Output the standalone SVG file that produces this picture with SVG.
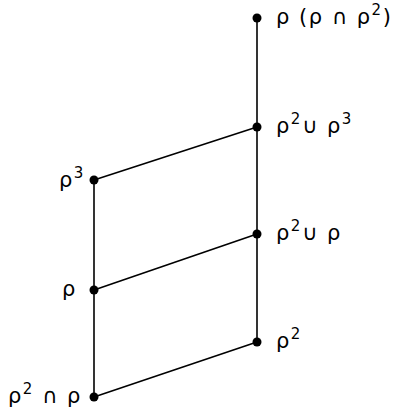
<svg xmlns="http://www.w3.org/2000/svg" width="404" height="413" viewBox="0 0 404 413">
<style>
.e{stroke:#000;stroke-width:1.6;fill:none}
.d{fill:#000}
text{font-family:"DejaVu Sans","Liberation Sans",sans-serif;font-size:21px;fill:#000;letter-spacing:1.5px}
.s{font-size:15px}
</style>
<rect width="404" height="413" fill="#fff"/>
<g id="connectors">
<line class="e" x1="257" y1="18" x2="257" y2="342"/>
<line class="e" x1="94" y1="180" x2="94" y2="397"/>
<line class="e" x1="94" y1="180" x2="257" y2="127"/>
<line class="e" x1="94" y1="290" x2="257" y2="234"/>
<line class="e" x1="94" y1="397" x2="257" y2="342"/>
</g>
<g id="n1"><circle class="d" cx="257" cy="18" r="4.5"/><text x="276" y="24">ρ (ρ ∩ ρ<tspan class="s" dy="-9">2</tspan><tspan dy="9">)</tspan></text></g>
<g id="n2"><circle class="d" cx="257" cy="127" r="4.5"/><text x="276" y="133">ρ<tspan class="s" dy="-9">2</tspan><tspan dy="9">∪ ρ</tspan><tspan class="s" dy="-9">3</tspan></text></g>
<g id="n3"><circle class="d" cx="94" cy="180" r="4.5"/><text x="59" y="187">ρ<tspan class="s" dy="-9">3</tspan></text></g>
<g id="n4"><circle class="d" cx="257" cy="234" r="4.5"/><text x="276" y="240">ρ<tspan class="s" dy="-9">2</tspan><tspan dy="9">∪ ρ</tspan></text></g>
<g id="n5"><circle class="d" cx="94" cy="290" r="4.5"/><text x="62" y="296">ρ</text></g>
<g id="n6"><circle class="d" cx="257" cy="342" r="4.5"/><text x="276" y="348">ρ<tspan class="s" dy="-9">2</tspan></text></g>
<g id="n7"><circle class="d" cx="94" cy="397" r="4.5"/><text x="8" y="403">ρ<tspan class="s" dy="-9">2</tspan><tspan dy="9"> ∩ ρ</tspan></text></g>
</svg>
